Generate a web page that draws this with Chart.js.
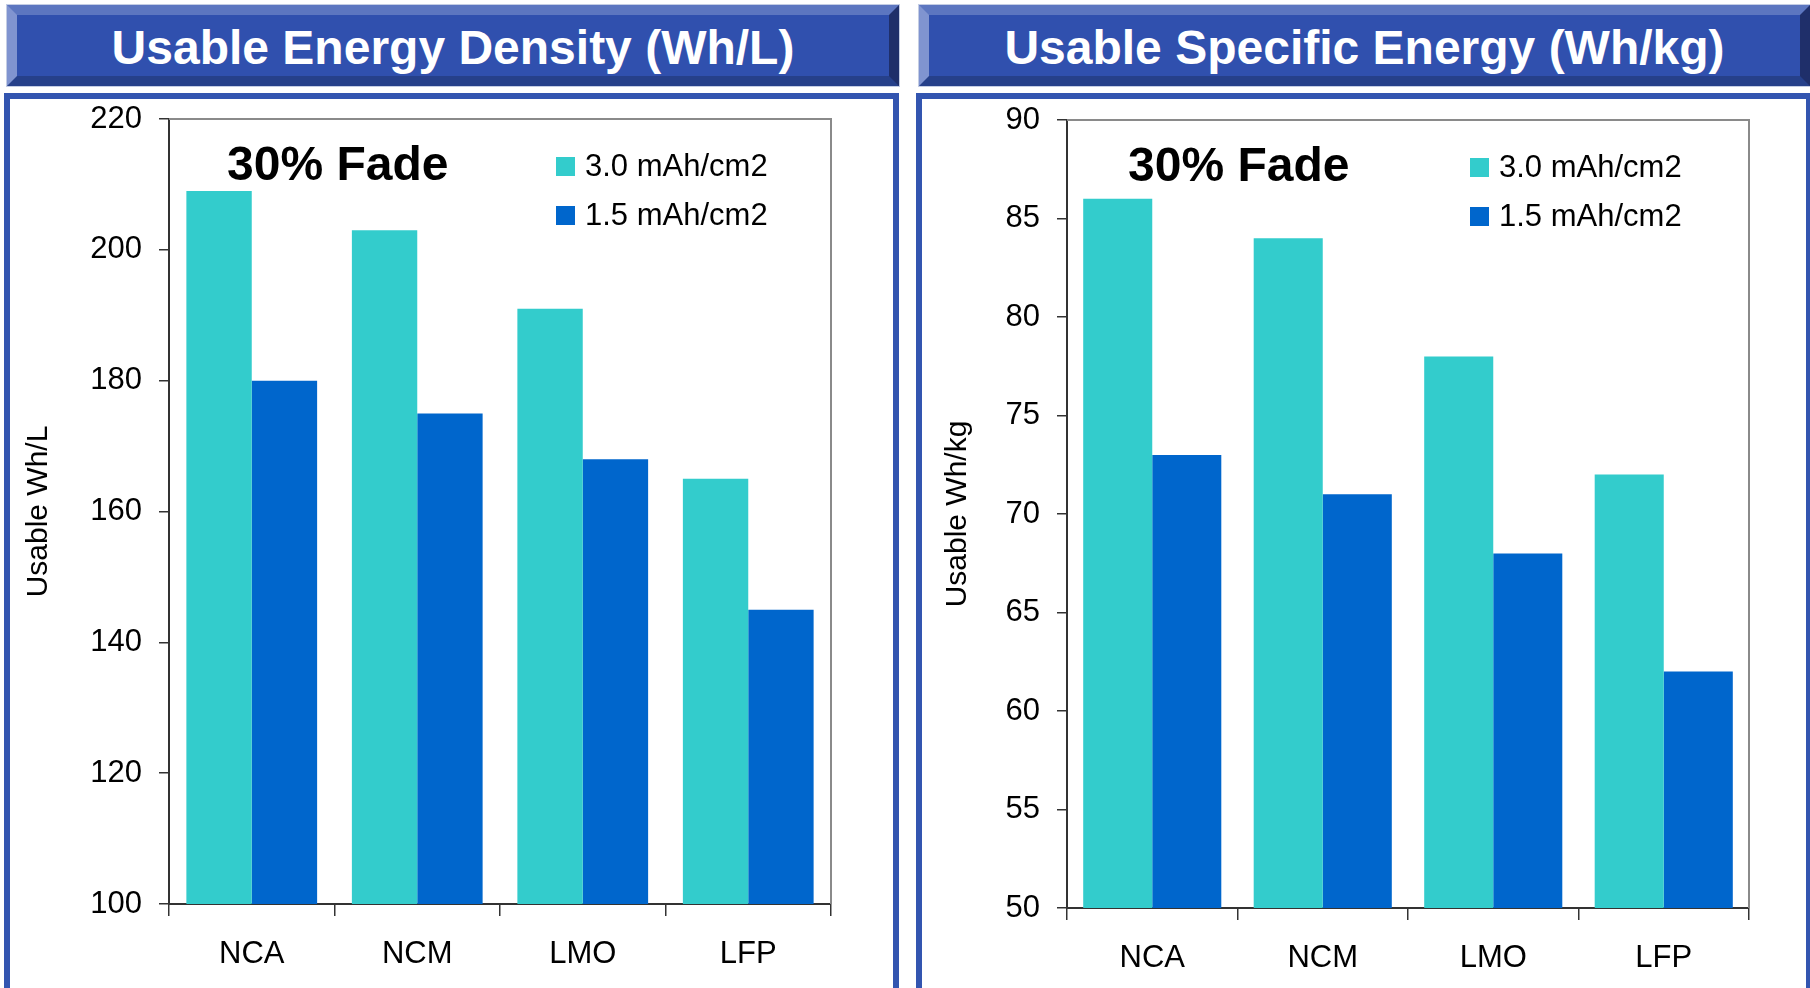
<!DOCTYPE html>
<html>
<head>
<meta charset="utf-8">
<title>Usable Energy</title>
<script src="https://cdn.jsdelivr.net/npm/chart.js@4"></script>
<style>
    html, body { margin: 0; padding: 0; background: #fff; }
    body { width: 1810px; height: 988px; position: relative; overflow: hidden; font-family: "Liberation Sans", Arial, sans-serif; }
    .banner {
        position: absolute; top: 5px; height: 81px; box-sizing: border-box;
        background: #3050ae;
        border-top: 10px solid #5c76c0; border-left: 10px solid #8094d0;
        border-bottom: 10px solid #26408a; border-right: 10px solid #1f2f6a;
        color: #fff; font-weight: bold; font-size: 48px; padding-top: 3px;
        display: flex; align-items: center; justify-content: center;
        outline: 1px solid #c4cde4;
    }
    .panel { position: absolute; top: 93px; height: 910px; box-sizing: border-box; border: 6px solid #3355b0; }
    canvas { position: absolute; }
</style>
</head>
<body>
    <div class="banner" style="left:7px;width:892px">Usable Energy Density (Wh/L)</div>
    <div class="banner" style="left:919px;width:891px">Usable Specific Energy (Wh/kg)</div>
    <div class="panel" style="left:4px;width:895px"></div>
    <div class="panel" style="left:916px;width:896px"></div>
    <canvas id="densityChart" width="883" height="889" style="left:10px;top:99px"></canvas>
    <canvas id="specificChart" width="883" height="889" style="left:922px;top:99px"></canvas>

<script>
// values
const categories = ['NCA', 'NCM', 'LMO', 'LFP'];
const seriesLabels = ['3.0 mAh/cm2', '1.5 mAh/cm2'];
const seriesColors = ['#33cccc', '#0066cc'];
const densityThick = [209, 203, 191, 165];
const densityThin = [180, 175, 168, 145];
const specificThick = [86, 84, 78, 72];
const specificThin = [73, 71, 68, 62];
const densityRange = [100, 220, 20];   // min, max, step
const specificRange = [50, 90, 5];
const fadeNote = '30% Fade';

const FONT = '"Liberation Sans", Arial, sans-serif';

// gray frame on top/right of the plot area, like the Excel original
const plotFrame = {
    id: 'plotFrame',
    beforeDatasetsDraw(chart) {
        const { ctx, chartArea: a } = chart;
        ctx.save();
        ctx.strokeStyle = '#8a8a8a';
        ctx.lineWidth = 2;
        ctx.beginPath();
        ctx.moveTo(a.left, a.top);
        ctx.lineTo(a.right, a.top);
        ctx.lineTo(a.right, a.bottom);
        ctx.stroke();
        ctx.restore();
    }
};

// note + legend drawn inside the plot
const insideLegend = {
    id: 'insideLegend',
    afterDraw(chart, args, opts) {
        const { ctx, chartArea: a } = chart;
        ctx.save();
        ctx.fillStyle = '#000';
        ctx.textBaseline = 'middle';
        ctx.font = 'bold 48px ' + FONT;
        ctx.fillText(opts.note, a.left + opts.noteX, a.top + 48);
        ctx.font = '31px ' + FONT;
        chart.data.datasets.forEach((ds, i) => {
            const y = a.top + 47 + i * 49;
            const x = a.right - opts.legendX;
            ctx.fillStyle = ds.backgroundColor;
            ctx.fillRect(x, y - 9, 19, 19);
            ctx.fillStyle = '#000';
            ctx.fillText(ds.label, x + 29, y + 1);
        });
        ctx.restore();
    }
};

function makeChart(id, thick, thin, range, yTitle, cfg) {
    const el = document.getElementById(id);
    return new Chart(el, {
        type: 'bar',
        data: {
            labels: categories,
            datasets: [
                { label: seriesLabels[0], data: thick, backgroundColor: seriesColors[0] },
                { label: seriesLabels[1], data: thin, backgroundColor: seriesColors[1] }
            ]
        },
        options: {
            responsive: false,
            animation: false,
            categoryPercentage: cfg.catPct,
            barPercentage: 1,
            layout: { padding: { top: cfg.padTop, right: cfg.padRight, bottom: 0, left: 0 } },
            plugins: {
                legend: { display: false },
                tooltip: { enabled: false },
                insideLegend: { note: fadeNote, noteX: cfg.noteX, legendX: cfg.legendX }
            },
            scales: {
                x: {
                    afterFit: s => { s.height = cfg.xHeight; s.paddingLeft = 0; s.paddingRight = 0; },
                    grid: { offset: true, drawOnChartArea: false, tickLength: 12, color: '#333', lineWidth: 1.5 },
                    border: { color: '#333', width: 2 },
                    ticks: { color: '#000', padding: 20, font: { family: FONT, size: 31 } }
                },
                y: {
                    min: range[0],
                    max: range[1],
                    afterFit: s => { s.width = cfg.yWidth; s.paddingTop = 0; s.paddingBottom = 0; },
                    grid: { drawOnChartArea: false, tickLength: 10, color: '#333', lineWidth: 1.5 },
                    border: { color: '#333', width: 2 },
                    ticks: { stepSize: range[2], color: '#000', padding: 17, font: { family: FONT, size: 31 } },
                    title: { display: true, text: yTitle, color: '#000', padding: { top: cfg.titlePad, bottom: 0 }, font: { family: FONT, size: 30 } }
                }
            }
        },
        plugins: [plotFrame, insideLegend]
    });
}

makeChart('densityChart', densityThick, densityThin, densityRange, 'Usable Wh/L',
    { catPct: 0.79, padTop: 20, padRight: 62, xHeight: 84, yWidth: 159, titlePad: 11, noteX: 58, legendX: 275 });
makeChart('specificChart', specificThick, specificThin, specificRange, 'Usable Wh/kg',
    { catPct: 0.81, padTop: 21, padRight: 56, xHeight: 80, yWidth: 145, titlePad: 18, noteX: 61, legendX: 279 });
</script>
</body>
</html>
